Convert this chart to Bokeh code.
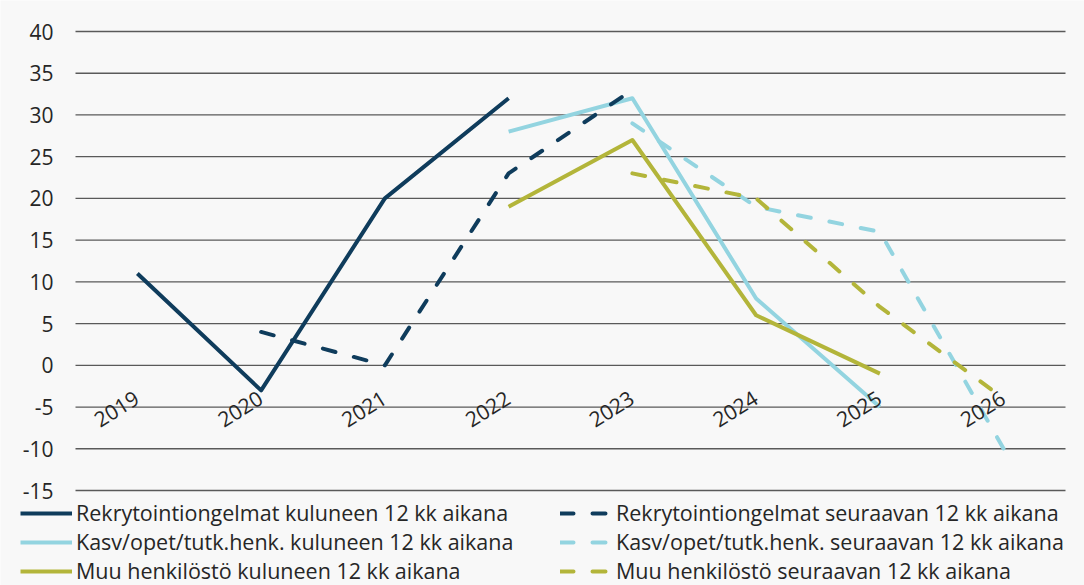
import math
from bokeh.plotting import figure
from bokeh.models import Range1d, Legend, LegendItem, ColumnDataSource
from bokeh.core.properties import value
from bokeh.embed import file_html
from bokeh.resources import INLINE

years = ["2019", "2020", "2021", "2022", "2023", "2024", "2025", "2026"]

rekry_kul = [11, -3, 20, 32, None, None, None, None]
rekry_seur = [None, 4, 0, 23, 33, None, None, None]
kasv_kul = [None, None, None, 28, 32, 8, -5, None]
kasv_seur = [None, None, None, None, 29, 19, 16, -10]
muu_kul = [None, None, None, 19, 27, 6, -1, None]
muu_seur = [None, None, None, None, 23, 20, 7, -4]

labels_kul = [
    "Rekrytointiongelmat kuluneen 12 kk aikana",
    "Kasv/opet/tutk.henk. kuluneen 12 kk aikana",
    "Muu henkilöstö kuluneen 12 kk aikana",
]
labels_seur = [
    "Rekrytointiongelmat seuraavan 12 kk aikana",
    "Kasv/opet/tutk.henk. seuraavan 12 kk aikana",
    "Muu henkilöstö seuraavan 12 kk aikana",
]

y_ticks = [-15, -10, -5, 0, 5, 10, 15, 20, 25, 30, 35, 40]

DARK = "#0f3c5c"
CYAN = "#93d4e0"
OLIVE = "#b3b53a"
FONT = "Open Sans"
TXT = "#262626"
BG = "#f8f8f8"
FS = "21px"
LFS = "21.5px"

W, H = 1084, 585
LEFT, RIGHT, TOP = 75, 19, 31          # plot area edges in pixels
n = len(years)
xpx = (W - LEFT - RIGHT) / n            # pixels per category
ypx = (H - TOP - 95) / (y_ticks[-1] - y_ticks[0])  # pixels per unit

xnum = [int(y) for y in years]
x_lo = xnum[0] - 0.5 - LEFT / xpx
x_hi = xnum[-1] + 0.5 + RIGHT / xpx
y_hi = y_ticks[-1] + TOP / ypx
y_lo = y_ticks[-1] - (H - TOP) / ypx

p = figure(
    width=W, height=H,
    x_range=Range1d(x_lo, x_hi), y_range=Range1d(y_lo, y_hi),
    output_backend="svg", toolbar_location=None,
    x_axis_location=None, y_axis_location=None,
    min_border=0, background_fill_color=BG, border_fill_color=BG,
)
p.outline_line_color = None
p.grid.visible = False

# horizontal gridlines across the category area
p.segment(x0=[xnum[0] - 0.5] * len(y_ticks), x1=[xnum[-1] + 0.5] * len(y_ticks),
          y0=y_ticks, y1=y_ticks, line_color="#5a5a5a", line_width=1.3)

# y tick labels
p.text(x=[xnum[0] - 0.5] * len(y_ticks), y=y_ticks, text=[str(t) for t in y_ticks],
       x_offset=-22, text_align="right", text_baseline="middle",
       text_font=value(FONT), text_font_size=FS, text_color=TXT)

def seg(vals):
    xs = [x for x, v in zip(xnum, vals) if v is not None]
    ys = [v for v in vals if v is not None]
    return ColumnDataSource(dict(x=xs, y=ys))

DASH = "13 19"
series_kul = [(rekry_kul, DARK), (kasv_kul, CYAN), (muu_kul, OLIVE)]
series_seur = [(rekry_seur, DARK), (kasv_seur, CYAN), (muu_seur, OLIVE)]

r_kul = [p.line("x", "y", source=seg(v), line_color=c, line_width=4, line_join="round")
         for v, c in series_kul]
r_seur = [p.line("x", "y", source=seg(v), line_color=c, line_width=4, line_join="round",
                 line_dash=DASH, line_cap="round")
          for v, c in series_seur]

# x category labels near the zero line, rotated
p.text(x=xnum, y=[-5.18] * n, text=years, angle=math.radians(32),
       x_offset=-21, text_align="center", text_baseline="middle",
       text_font=value(FONT), text_font_size=FS, text_color=TXT)

common = dict(
    orientation="vertical", background_fill_alpha=0, border_line_color=None,
    label_text_font=FONT, label_text_font_size=LFS, label_text_color=TXT,
    glyph_width=52, glyph_height=20, label_height=20, label_standoff=4,
    spacing=0, padding=0, margin=0,
)
leg1 = Legend(items=[LegendItem(label=l, renderers=[r]) for l, r in zip(labels_kul, r_kul)],
              location=(20, 0), **common)
leg2 = Legend(items=[LegendItem(label=l, renderers=[r]) for l, r in zip(labels_seur, r_seur)],
              location=(560, 0), **common)
p.add_layout(leg1, "center")
p.add_layout(leg2, "center")

open("out.html", "w").write(file_html(p, INLINE))
